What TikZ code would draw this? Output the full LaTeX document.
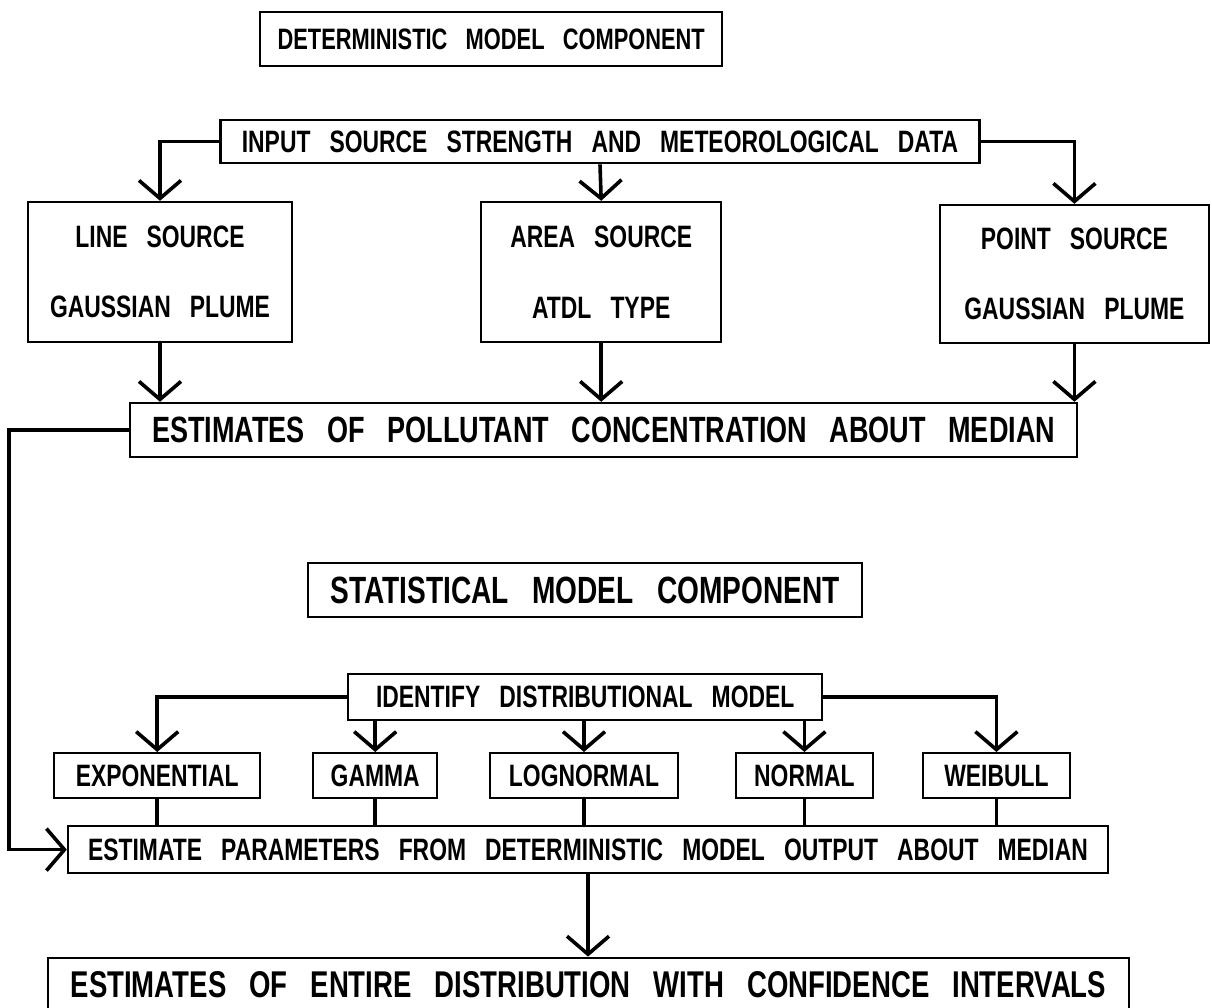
\documentclass[tikz,border=0pt]{standalone}
\usepackage{fontspec}
\setmainfont{Liberation Sans}[FakeStretch=0.74,WordSpace=3]
\usetikzlibrary{arrows.meta,positioning}

\tikzset{
  box/.style={draw, line width=0.06cm, inner sep=0pt, align=center, font=\fontsize{22}{26}\selectfont\bfseries},
  bigbox/.style={box, font=\fontsize{#1}{28}\selectfont\bfseries},
  link/.style={line width=0.09cm},
}

\begin{document}
\begin{tikzpicture}[>={Straight Barb[length=0.45cm,width=1.05cm]}]
        \useasboundingbox (0,0) rectangle (30.3,-25.2);

        % Deterministic part
        \node[bigbox=21, minimum width=11.55cm, minimum height=1.35cm] (detTitle) at (12.28,-0.975) {DETERMINISTIC MODEL COMPONENT};
        \node[box, minimum width=18.98cm, minimum height=1.08cm] (input) at (15.0,-3.54) {INPUT SOURCE STRENGTH AND METEOROLOGICAL DATA};
        \node[box, minimum width=6.6cm, minimum height=3.5cm] (lineSrc) at (4.0,-6.8) {LINE SOURCE\\[0.85cm]GAUSSIAN PLUME};
        \node[box, minimum width=6.0cm, minimum height=3.5cm] (areaSrc) at (15.03,-6.8) {AREA SOURCE\\[0.85cm]ATDL TYPE};
        \node[box, minimum width=6.72cm, minimum height=3.45cm] (pointSrc) at (26.86,-6.85) {POINT SOURCE\\[0.85cm]GAUSSIAN PLUME};
        \node[bigbox=26, minimum width=23.68cm, minimum height=1.35cm] (estConc) at (15.09,-10.75) {ESTIMATES OF POLLUTANT CONCENTRATION ABOUT MEDIAN};

        % Statistical part
        \node[bigbox=27, minimum width=13.85cm, minimum height=1.35cm] (statTitle) at (14.63,-14.75) {STATISTICAL MODEL COMPONENT};
        \node[box, minimum width=11.85cm, minimum height=1.15cm] (ident) at (14.63,-17.43) {IDENTIFY DISTRIBUTIONAL MODEL};
        \node[box, minimum width=5.15cm, minimum height=1.12cm] (expo) at (3.93,-19.39) {EXPONENTIAL};
        \node[box, minimum width=3.1cm, minimum height=1.12cm] (gamma) at (9.38,-19.39) {GAMMA};
        \node[box, minimum width=4.7cm, minimum height=1.12cm] (logn) at (14.6,-19.39) {LOGNORMAL};
        \node[box, minimum width=3.42cm, minimum height=1.12cm] (normal) at (20.11,-19.39) {NORMAL};
        \node[box, minimum width=3.68cm, minimum height=1.12cm] (weibull) at (24.91,-19.39) {WEIBULL};
        \node[box, minimum width=26.0cm, minimum height=1.18cm] (params) at (14.7,-21.24) {ESTIMATE PARAMETERS FROM DETERMINISTIC MODEL OUTPUT ABOUT MEDIAN};
        \node[bigbox=26.5, minimum width=27.03cm, minimum height=1.35cm] (final) at (14.71,-24.62) {ESTIMATES OF ENTIRE DISTRIBUTION WITH CONFIDENCE INTERVALS};

        \coordinate (fb) at (0.225,-16);

        % Arrows
        \draw[->, link] (input.west) -| (lineSrc.north);
        \draw[->, link] (input.south) -- (areaSrc.north);
        \draw[->, link] (input.east) -| (pointSrc.north);
        \draw[->, link] (lineSrc.south) -- (lineSrc.south |- estConc.north);
        \draw[->, link] (areaSrc.south) -- (areaSrc.south |- estConc.north);
        \draw[->, link] (pointSrc.south) -- (pointSrc.south |- estConc.north);
        \draw[->, link] (estConc.west) -| (fb) |- (params.west);

        \draw[->, link] (ident.west) -| (expo.north);
        \draw[->, link] (ident.south -| gamma.north) -- (gamma.north);
        \draw[->, link] (ident.south -| logn.north) -- (logn.north);
        \draw[->, link] (ident.south -| normal.north) -- (normal.north);
        \draw[->, link] (ident.east) -| (weibull.north);

        \draw[link] (expo.south) -- (expo.south |- params.north);
        \draw[link] (gamma.south) -- (gamma.south |- params.north);
        \draw[link] (logn.south) -- (logn.south |- params.north);
        \draw[link] (normal.south) -- (normal.south |- params.north);
        \draw[link] (weibull.south) -- (weibull.south |- params.north);
        \draw[->, link] (params.south) -- (params.south |- final.north);
    \end{tikzpicture}
\end{document}
